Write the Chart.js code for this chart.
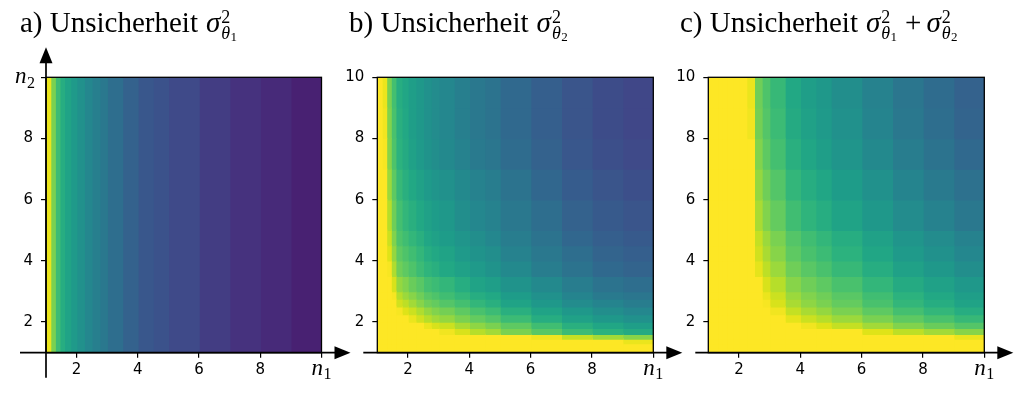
<!DOCTYPE html>
<html><head><meta charset="utf-8">
<script src="https://cdn.jsdelivr.net/npm/chart.js@4.4.1/dist/chart.umd.min.js"></script>
<style>
html,body{margin:0;padding:0;background:#fff;}
#wrap{position:relative;width:1024px;height:393px;overflow:hidden;}
canvas{position:absolute;left:0;top:0;}
</style></head><body>
<div id="wrap">
<canvas id="cA" width="1024" height="393"></canvas>
<canvas id="cB" width="1024" height="393"></canvas>
<canvas id="cC" width="1024" height="393"></canvas>
</div>
<script>
// ---------------- data ----------------
const n1Edges = [1, 1.15, 1.3, 1.45, 1.6, 1.8, 2.0, 2.25, 2.5, 2.75, 3.0, 3.5, 4.0, 4.5, 5.0, 6.0, 7.0, 8.0, 9.0, 10.0];
const n2Edges = [1, 1.15, 1.3, 1.45, 1.6, 1.8, 2.0, 2.25, 2.5, 2.75, 3.0, 3.5, 4.0, 4.5, 5.0, 6.0, 7.0, 8.0, 9.0, 10.0];
const xTickValues = [2, 4, 6, 8, 10];
const yTickValues = [2, 4, 6, 8, 10];
const panelLabels = ['a) Unsicherheit', 'b) Unsicherheit', 'c) Unsicherheit'];
const panelTerms = [['1'], ['2'], ['1', '2']];

// colour level (0..1 of the colour scale) per n1 cell, panel a
const sigma1 = [0.97, 0.80, 0.68, 0.62, 0.58, 0.54, 0.50, 0.46, 0.43, 0.40, 0.36, 0.31, 0.27, 0.25, 0.22, 0.18, 0.15, 0.12, 0.09];

// panel b: rows from n2 low to high, columns n1 low to high
const sigma2 = [
 [1,1,1,1,1,1,1,1,1,1,1,1,1,1,1,1,1,1,1],
 [1,1,1,1,1,1,1,1,1,1,1,1,1,1,1,1,1,1,1],
 [1,1,1,1,1,1,1,1,1,1,1,1,1,1,1,1,1,1,0.97],
 [1,1,1,1,1,1,1,1,1,1,1,1,1,1,1,0.98,0.91,0.86,0.82],
 [1,1,1,1,1,1,1,1,1,1,0.98,0.94,0.89,0.86,0.80,0.74,0.68,0.64,0.61],
 [1,1,1,1,1,1,1,1,0.97,0.94,0.92,0.87,0.83,0.80,0.75,0.69,0.63,0.59,0.56],
 [1,1,1,1,1,1,0.97,0.93,0.89,0.86,0.84,0.80,0.76,0.73,0.68,0.62,0.57,0.53,0.50],
 [1,1,1,1,0.99,0.95,0.92,0.88,0.84,0.81,0.79,0.75,0.71,0.68,0.63,0.58,0.53,0.49,0.46],
 [1,1,1,1,0.93,0.90,0.86,0.82,0.78,0.76,0.73,0.70,0.66,0.63,0.58,0.53,0.48,0.45,0.42],
 [1,1,1,0.99,0.89,0.85,0.82,0.78,0.74,0.72,0.69,0.66,0.62,0.60,0.55,0.50,0.45,0.41,0.39],
 [1,1,1,0.94,0.84,0.81,0.77,0.74,0.70,0.68,0.66,0.62,0.58,0.56,0.51,0.47,0.42,0.38,0.36],
 [1,1,0.99,0.88,0.78,0.75,0.72,0.68,0.65,0.63,0.60,0.57,0.54,0.51,0.47,0.42,0.38,0.34,0.32],
 [1,1,0.95,0.84,0.75,0.72,0.69,0.66,0.62,0.60,0.58,0.54,0.51,0.49,0.44,0.40,0.36,0.32,0.30],
 [1,1,0.92,0.81,0.72,0.69,0.66,0.63,0.59,0.57,0.55,0.52,0.49,0.46,0.42,0.38,0.33,0.30,0.28],
 [1,1,0.89,0.78,0.70,0.66,0.63,0.60,0.57,0.55,0.53,0.49,0.46,0.44,0.40,0.36,0.31,0.28,0.26],
 [1,1,0.85,0.75,0.67,0.63,0.60,0.57,0.54,0.52,0.50,0.47,0.44,0.42,0.38,0.33,0.29,0.26,0.24],
 [1,0.99,0.82,0.72,0.64,0.61,0.57,0.54,0.51,0.49,0.47,0.44,0.41,0.39,0.35,0.31,0.27,0.24,0.22],
 [1,0.98,0.81,0.71,0.63,0.60,0.56,0.53,0.50,0.48,0.46,0.43,0.40,0.38,0.34,0.30,0.26,0.23,0.21],
 [1,0.97,0.80,0.70,0.62,0.59,0.56,0.53,0.50,0.48,0.46,0.43,0.40,0.38,0.34,0.30,0.26,0.23,0.21]
];

// panel c: rows from n2 low to high, columns n1 low to high
const sigmaSum = [
 [1,1,1,1,1,1,1,1,1,1,1,1,1,1,1,1,1,1,1],
 [1,1,1,1,1,1,1,1,1,1,1,1,1,1,1,1,1,1,1],
 [1,1,1,1,1,1,1,1,1,1,1,1,1,1,1,1,1,1,1],
 [1,1,1,1,1,1,1,1,1,1,1,1,1,1,1,1,1,1,0.97],
 [1,1,1,1,1,1,1,1,1,1,1,1,1,1,1,0.95,0.90,0.86,0.82],
 [1,1,1,1,1,1,1,1,1,1,1,1,0.98,0.95,0.91,0.86,0.81,0.77,0.73],
 [1,1,1,1,1,1,1,1,1,1,1,0.96,0.92,0.89,0.85,0.80,0.75,0.71,0.67],
 [1,1,1,1,1,1,1,1,1,1,0.98,0.91,0.87,0.84,0.80,0.75,0.70,0.66,0.62],
 [1,1,1,1,1,1,1,1,1,0.99,0.94,0.87,0.83,0.80,0.76,0.71,0.66,0.62,0.58],
 [1,1,1,1,1,1,1,1,1,0.97,0.92,0.85,0.81,0.78,0.74,0.69,0.64,0.60,0.56],
 [1,1,1,1,1,1,1,1,1,0.94,0.89,0.82,0.78,0.75,0.71,0.66,0.61,0.57,0.53],
 [1,1,1,1,1,1,1,1,0.96,0.90,0.85,0.78,0.74,0.71,0.67,0.62,0.57,0.53,0.49],
 [1,1,1,1,1,1,1,1,0.93,0.87,0.82,0.75,0.71,0.68,0.64,0.59,0.54,0.50,0.46],
 [1,1,1,1,1,1,1,1,0.91,0.85,0.80,0.73,0.69,0.66,0.62,0.57,0.52,0.48,0.44],
 [1,1,1,1,1,1,1,1,0.87,0.81,0.76,0.69,0.65,0.62,0.58,0.53,0.48,0.44,0.40],
 [1,1,1,1,1,1,1,1,0.84,0.78,0.73,0.66,0.62,0.59,0.55,0.50,0.45,0.41,0.37],
 [1,1,1,1,1,1,1,1,0.81,0.75,0.70,0.63,0.59,0.56,0.52,0.47,0.42,0.38,0.34],
 [1,1,1,1,1,1,1,0.98,0.79,0.73,0.68,0.61,0.57,0.54,0.50,0.45,0.40,0.36,0.32],
 [1,1,1,1,1,1,1,0.97,0.78,0.72,0.67,0.60,0.56,0.53,0.49,0.44,0.39,0.35,0.31]
];

// ---------------- colour scale (viridis) ----------------
const VIR = ['#440154','#471365','#482475','#46327e','#414487','#3b528b','#355f8d','#2f6c8e','#2a788e','#25848e',
             '#21918c','#1e9c89','#22a884','#2fb47c','#44bf70','#5ec962','#7ad151','#9bd93c','#bddf26','#dfe318','#fde725'];
function hexRgb(h){return [parseInt(h.slice(1,3),16),parseInt(h.slice(3,5),16),parseInt(h.slice(5,7),16)];}
const VIRRGB = VIR.map(hexRgb);
function viridis(v){
  v = Math.max(0, Math.min(1, v));
  const p = v * (VIR.length - 1);
  const i = Math.min(VIR.length - 2, Math.floor(p));
  const f = p - i;
  const a = VIRRGB[i], b = VIRRGB[i + 1];
  return 'rgb(' + [0,1,2].map(k => Math.round(a[k] + (b[k] - a[k]) * f)).join(',') + ')';
}

// ---------------- datasets: one floating bar column per n1 cell ----------------
function makeDatasets(getValue, rowEdges){
  const ds = [];
  for (let i = 0; i < n1Edges.length - 1; i++){
    const lo = n1Edges[i], hi = n1Edges[i + 1];
    const data = [], colors = [];
    for (let j = 0; j < rowEdges.length - 1; j++){
      data.push({x: (lo + hi) / 2, y: [rowEdges[j], rowEdges[j + 1]]});
      colors.push(viridis(getValue(j, i)));
    }
    ds.push({
      data, backgroundColor: colors, borderWidth: 0, grouped: false, inflateAmount: 0.7,
      barThickness: ctx => {
        const s = ctx.chart.scales && ctx.chart.scales.x;
        if (!s || !ctx.chart.chartArea) return 1;
        return Math.abs(s.getPixelForValue(hi) - s.getPixelForValue(lo));
      }
    });
  }
  return ds;
}

// ---------------- decorations: frame, arrows, math labels, titles ----------------
const SERIF = '"Liberation Serif", "DejaVu Serif", serif';
function drawTitle(ctx, label, terms, x, y){
  const size = 29;
  ctx.fillStyle = '#000'; ctx.textAlign = 'left'; ctx.textBaseline = 'alphabetic';
  ctx.font = size + 'px ' + SERIF;
  ctx.fillText(label, x, y);
  x += ctx.measureText(label).width + 8;
  terms.forEach((k, idx) => {
    if (idx > 0){
      ctx.font = size + 'px ' + SERIF;
      x += 8;
      ctx.fillText('+', x, y);
      x += ctx.measureText('+').width + 5;
    }
    ctx.font = 'italic ' + size + 'px ' + SERIF;
    ctx.fillText('σ', x, y);
    x += ctx.measureText('σ').width + 1;
    ctx.font = '18px ' + SERIF;
    ctx.fillText('2', x, y - 9.5);
    ctx.font = 'italic 18px ' + SERIF;
    ctx.fillText('θ', x, y + 6.5);
    const w = ctx.measureText('θ').width;
    ctx.font = '13px ' + SERIF;
    ctx.fillText(k, x + w + 0.5, y + 8.5);
    x += w + 0.5 + ctx.measureText(k).width;
  });
}
function drawMathLabel(ctx, base, sub, x, y){
  ctx.fillStyle = '#000'; ctx.textAlign = 'left'; ctx.textBaseline = 'alphabetic';
  ctx.font = 'italic 23px ' + SERIF;
  ctx.fillText(base, x, y);
  const w = ctx.measureText(base).width;
  ctx.font = '16px ' + SERIF;
  ctx.fillText(sub, x + w + 0.5, y + 4.5);
}
const decor = {
  id: 'decor',
  afterDraw(chart, args, o){
    const ctx = chart.ctx, a = chart.chartArea;
    const xs = chart.scales.x, ys = chart.scales.y;
    ctx.save();
    ctx.strokeStyle = '#000'; ctx.fillStyle = '#000';
    ctx.lineWidth = 1.3;
    ctx.strokeRect(a.left, a.top, a.right - a.left, a.bottom - a.top);
    // x arrow
    ctx.lineWidth = 1.7;
    const tip = a.right + o.xTip;
    ctx.beginPath(); ctx.moveTo(a.left - o.xBack, a.bottom); ctx.lineTo(tip - 10, a.bottom); ctx.stroke();
    ctx.beginPath(); ctx.moveTo(tip, a.bottom); ctx.lineTo(tip - 16, a.bottom - 6.5); ctx.lineTo(tip - 16, a.bottom + 6.5); ctx.closePath(); ctx.fill();
    if (o.yArrow){
      const ytip = a.top - 30;
      ctx.beginPath(); ctx.moveTo(a.left, a.bottom + 25); ctx.lineTo(a.left, ytip + 10); ctx.stroke();
      ctx.beginPath(); ctx.moveTo(a.left, ytip); ctx.lineTo(a.left - 6.5, ytip + 16); ctx.lineTo(a.left + 6.5, ytip + 16); ctx.closePath(); ctx.fill();
    }
    // n1 label at the x tick 10
    const px = xs.getPixelForValue(10);
    drawMathLabel(ctx, 'n', '1', px - 10, a.bottom + 22);
    if (o.yMath){
      const py = ys.getPixelForValue(10);
      drawMathLabel(ctx, 'n', '2', a.left - 31, py + 6);
    }
    drawTitle(ctx, o.label, o.terms, o.titleX, 32);
    ctx.restore();
  }
};

function makeChart(id, datasets, area, opts){
  const tickFont = {family: '"DejaVu Sans", sans-serif', size: 15};
  return new Chart(document.getElementById(id), {
    type: 'bar',
    data: {datasets},
    plugins: [decor],
    options: {
      responsive: false, animation: false, events: [],
      layout: {padding: {left: area.left - 40, right: 1024 - area.right, top: area.top, bottom: 393 - area.bottom - 32}},
      plugins: {legend: {display: false}, tooltip: {enabled: false},
        decor: opts},
      scales: {
        x: {
          type: 'linear', min: 1, max: 10, offset: false,
          border: {display: false},
          grid: {offset: false, drawOnChartArea: false, drawTicks: true, tickLength: 5, color: '#000', lineWidth: 1.2},
          ticks: {font: tickFont, color: '#000', padding: 3, maxRotation: 0, autoSkip: false,
                  callback: v => (v === 10 ? '' : String(v))},
          afterBuildTicks: s => { s.ticks = xTickValues.map(v => ({value: v})); },
          afterFit: s => { s.height = 32; }
        },
        y: {
          type: 'linear', min: 1, max: 10, offset: false,
          border: {display: false},
          grid: {offset: false, drawOnChartArea: false, drawTicks: true, tickLength: 5, color: '#000', lineWidth: 1.2},
          ticks: {font: tickFont, color: '#000', padding: 8, autoSkip: false,
                  callback: v => (opts.yMath && v === 10 ? '' : String(v))},
          afterBuildTicks: s => { s.ticks = yTickValues.map(v => ({value: v})); },
          afterFit: s => { s.width = 40; }
        }
      }
    }
  });
}

const fullRow = [n2Edges[0], n2Edges[n2Edges.length - 1]];
makeChart('cA', makeDatasets((j, i) => sigma1[i], fullRow),
  {left: 46, right: 321.5, top: 77.3, bottom: 352.7},
  {label: panelLabels[0], terms: panelTerms[0], titleX: 20, xBack: 26, xTip: 29, yArrow: true, yMath: true});
makeChart('cB', makeDatasets((j, i) => sigma2[j][i], n2Edges),
  {left: 377.3, right: 653.3, top: 77.3, bottom: 352.7},
  {label: panelLabels[1], terms: panelTerms[1], titleX: 349, xBack: 14, xTip: 29, yArrow: false, yMath: false});
makeChart('cC', makeDatasets((j, i) => sigmaSum[j][i], n2Edges),
  {left: 708.3, right: 984.3, top: 77.3, bottom: 352.7},
  {label: panelLabels[2], terms: panelTerms[2], titleX: 680, xBack: 13, xTip: 29, yArrow: false, yMath: false});
</script>
</body></html>
